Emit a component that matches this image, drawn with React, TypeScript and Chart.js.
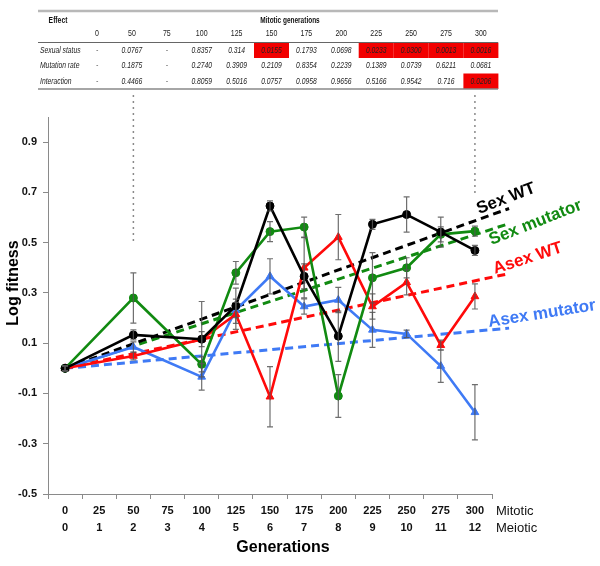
import React, { useEffect, useRef } from 'react';
import { Chart, registerables } from 'chart.js';

Chart.register(...registerables);

// ---------- data ----------
const mitoticLabels = ['0', '25', '50', '75', '100', '125', '150', '175', '200', '225', '250', '275', '300'];
const meioticLabels = ['0', '1', '2', '3', '4', '5', '6', '7', '8', '9', '10', '11', '12'];
const yTickValues = [-0.5, -0.3, -0.1, 0.1, 0.3, 0.5, 0.7, 0.9];

const sexWT = [0, null, 0.133, null, 0.116, 0.249, 0.646, 0.366, 0.128, 0.573, 0.612, 0.542, 0.469];
const sexWTErr = [0.01, null, 0.02, null, 0.15, 0.07, 0.02, 0.05, 0.1, 0.02, 0.07, 0.06, 0.02];
const sexMut = [0, null, 0.28, null, 0.016, 0.38, 0.544, 0.562, -0.11, 0.36, 0.4, 0.533, 0.546];
const sexMutErr = [0.01, null, 0.1, null, 0.03, 0.045, 0.04, 0.04, 0.085, 0.1, 0.04, 0.03, 0.02];
const asexWT = [0, null, 0.049, null, 0.116, 0.215, -0.113, 0.4, 0.522, 0.246, 0.342, 0.092, 0.286];
const asexWTErr = [0.01, null, 0.015, null, 0.03, 0.06, 0.12, 0.12, 0.09, 0.05, 0.05, 0.02, 0.05];
const asexMut = [0, null, 0.085, null, -0.034, 0.232, 0.366, 0.246, 0.272, 0.153, 0.137, 0.009, -0.175];
const asexMutErr = [0.01, null, 0.02, null, 0.053, 0.03, 0.07, 0.03, 0.05, 0.07, 0.015, 0.065, 0.11];

// linear trend lines: start (index, value) and end (index, value)
const trendStartX = 0;
const trendEndX = 13;
const sexWTTrend = [0, 0.636];
const sexMutTrend = [0, 0.576];
const asexWTTrend = [0, 0.377];
const asexMutTrend = [0, 0.16];

// table
const tableCols = ['0', '50', '75', '100', '125', '150', '175', '200', '225', '250', '275', '300'];
const rowNames = ['Sexual status', 'Mutation rate', 'Interaction'];
const sexualStatusP = ['-', '0.0767', '-', '0.8357', '0.314', '0.0155', '0.1793', '0.0698', '0.0233', '0.0300', '0.0013', '0.0016'];
const mutationRateP = ['-', '0.1875', '-', '0.2740', '0.3909', '0.2109', '0.8354', '0.2239', '0.1389', '0.0739', '0.6211', '0.0681'];
const interactionP = ['-', '0.4466', '-', '0.8059', '0.5016', '0.0757', '0.0958', '0.9656', '0.5166', '0.9542', '0.716', '0.0206'];
const sexualStatusSig = [5, 8, 9, 10, 11];
const mutationRateSig: number[] = [];
const interactionSig = [11];

// guide dotted lines (category, value where it ends)
const guideCats = ['50', '300'];
const guideEnds = [0.5, 0.69];

const seriesNames = ['Sex WT', 'Sex mutator', 'Asex WT', 'Asex mutator'];

// ---------- styles ----------
const FONT = "'Liberation Sans', Arial, Helvetica, sans-serif";
const BLACK = '#000000';
const GREEN = '#118a11';
const RED = '#ff0a0a';
const BLUE = '#3f7af5';

function txt(ctx: CanvasRenderingContext2D, s: string, x: number, y: number, font: string, color: string,
  align: CanvasTextAlign = 'center', sx = 1, angleDeg = 0, baseline: CanvasTextBaseline = 'middle') {
  ctx.save();
  ctx.font = font;
  ctx.fillStyle = color;
  ctx.textAlign = align;
  ctx.textBaseline = baseline;
  ctx.translate(x, y);
  if (angleDeg) ctx.rotate((angleDeg * Math.PI) / 180);
  ctx.scale(sx, 1);
  ctx.fillText(s, 0, 0);
  ctx.restore();
}

const annotPlugin = {
  id: 'annot',
  afterDatasetsDraw(chart: any) {
    const ctx: CanvasRenderingContext2D = chart.ctx;
    const xs = chart.scales.x;
    const ys = chart.scales.y;
    const sets = [
      [sexWT, sexWTErr],
      [sexMut, sexMutErr],
      [asexWT, asexWTErr],
      [asexMut, asexMutErr],
    ];
    ctx.save();
    ctx.strokeStyle = 'rgba(85,85,85,0.85)';
    ctx.lineWidth = 1.2;
    sets.forEach(([vals, errs]) => {
      vals.forEach((v: any, i: number) => {
        const e = errs[i];
        if (v === null || e === null) return;
        const px = xs.getPixelForValue(i);
        const y1 = ys.getPixelForValue(v + e);
        const y2 = ys.getPixelForValue(v - e);
        ctx.beginPath();
        ctx.moveTo(px, y1);
        ctx.lineTo(px, y2);
        ctx.moveTo(px - 3, y1);
        ctx.lineTo(px + 3, y1);
        ctx.moveTo(px - 3, y2);
        ctx.lineTo(px + 3, y2);
        ctx.stroke();
      });
    });
    ctx.restore();
  },
  afterDraw(chart: any) {
    const ctx: CanvasRenderingContext2D = chart.ctx;
    const xs = chart.scales.x;
    const ys = chart.scales.y;

    // ---- table ----
    const colX = (k: number) => 97 + k * 34.9;
    ctx.save();
    ctx.strokeStyle = '#b8b8b8';
    ctx.lineWidth = 2.5;
    ctx.beginPath();
    ctx.moveTo(38, 11);
    ctx.lineTo(498, 11);
    ctx.stroke();
    ctx.restore();

    txt(ctx, 'Effect', 58, 21, `bold 9px ${FONT}`, '#111', 'center', 0.75);
    txt(ctx, 'Mitotic generations', 290, 21, `bold 9px ${FONT}`, '#111', 'center', 0.72);
    tableCols.forEach((c, k) => txt(ctx, c, colX(k), 33.5, `9px ${FONT}`, '#222', 'center', 0.78));

    const rowTop = [42.5, 58, 73.5];
    const rowH = 15.5;
    const rowVals = [sexualStatusP, mutationRateP, interactionP];
    const rowSig = [sexualStatusSig, mutationRateSig, interactionSig];
    rowSig.forEach((sig, r) => {
      ctx.save();
      ctx.fillStyle = '#f20000';
      sig.forEach((k) => {
        ctx.fillRect(colX(k) - 17.5, rowTop[r], 35, rowH);
      });
      ctx.restore();
    });
    ctx.save();
    ctx.strokeStyle = '#666';
    ctx.lineWidth = 1;
    ctx.beginPath();
    ctx.moveTo(38, 42.5);
    ctx.lineTo(498, 42.5);
    ctx.stroke();
    ctx.strokeStyle = '#888';
    ctx.lineWidth = 1.5;
    ctx.beginPath();
    ctx.moveTo(38, 89);
    ctx.lineTo(498, 89);
    ctx.stroke();
    ctx.restore();
    rowNames.forEach((n, r) => {
      const cy = rowTop[r] + rowH / 2;
      txt(ctx, n, 40, cy, `italic 9px ${FONT}`, '#222', 'left', 0.75);
      rowVals[r].forEach((v, k) => {
        txt(ctx, v, colX(k), cy, `italic 9px ${FONT}`, '#222', 'center', 0.75);
      });
    });

    // ---- dotted guide lines ----
    ctx.save();
    ctx.strokeStyle = '#8a8a8a';
    ctx.lineWidth = 1.5;
    ctx.setLineDash([2, 4]);
    guideCats.forEach((c, i) => {
      const px = xs.getPixelForValue(mitoticLabels.indexOf(c));
      ctx.beginPath();
      ctx.moveTo(px, 95);
      ctx.lineTo(px, ys.getPixelForValue(guideEnds[i]));
      ctx.stroke();
    });
    ctx.restore();

    // ---- axis titles ----
    txt(ctx, 'Log fitness', 14, 283, `bold 16px ${FONT}`, '#000', 'center', 1, -90);
    txt(ctx, 'Generations', 283, 548, `bold 16px ${FONT}`, '#000', 'center');
    txt(ctx, 'Mitotic', 496, 511, `13px ${FONT}`, '#111', 'left');
    txt(ctx, 'Meiotic', 496, 528, `13px ${FONT}`, '#111', 'left');

    // ---- series labels ----
    const lbl = [
      { c: BLACK, x: 479, y: 214, a: -21 },
      { c: GREEN, x: 491.5, y: 245, a: -21.5 },
      { c: RED, x: 495, y: 274, a: -18 },
      { c: BLUE, x: 489, y: 327, a: -9 },
    ];
    lbl.forEach((l, i) => txt(ctx, seriesNames[i], l.x, l.y, `bold 17px ${FONT}`, l.c, 'left', 1, l.a, 'alphabetic'));
  },
};

function lineSet(label: string, data: any[], color: string, style: string, radius: number) {
  return {
    label,
    data,
    borderColor: color,
    backgroundColor: color,
    borderWidth: 2.6,
    pointStyle: style,
    pointRadius: radius,
    pointBorderWidth: 1,
    spanGaps: true,
    tension: 0,
    xAxisID: 'x',
    yAxisID: 'y',
  };
}

function trendSet(label: string, t: number[], color: string) {
  return {
    label,
    data: [
      { x: trendStartX, y: t[0] },
      { x: trendEndX, y: t[1] },
    ],
    borderColor: color,
    backgroundColor: color,
    borderWidth: 3,
    borderDash: [8, 5],
    pointRadius: 0,
    clip: false,
    xAxisID: 'xt',
    yAxisID: 'y',
  };
}

export default function App() {
  const ref = useRef<HTMLCanvasElement>(null);
  useEffect(() => {
    document.body.style.margin = '0';
    const canvas = ref.current;
    if (!canvas) return;
    const chart = new Chart(canvas, {
      type: 'line',
      data: {
        labels: mitoticLabels,
        datasets: [
          lineSet(seriesNames[0], sexWT, BLACK, 'circle', 4),
          lineSet(seriesNames[1], sexMut, GREEN, 'circle', 4),
          lineSet(seriesNames[2], asexWT, RED, 'triangle', 4.5),
          lineSet(seriesNames[3], asexMut, BLUE, 'triangle', 4.5),
          trendSet('Sex WT trend', sexWTTrend, BLACK),
          trendSet('Sex mutator trend', sexMutTrend, GREEN),
          trendSet('Asex WT trend', asexWTTrend, RED),
          trendSet('Asex mutator trend', asexMutTrend, BLUE),
        ] as any,
      },
      options: {
        responsive: false,
        animation: false,
        devicePixelRatio: 1,
        layout: { padding: { left: 0, right: 108, top: 117, bottom: 0 } },
        plugins: {
          legend: { display: false },
          tooltip: { enabled: false },
          title: { display: false },
        },
        scales: {
          x: {
            type: 'category',
            position: 'bottom',
            offset: true,
            grid: { drawOnChartArea: false, drawTicks: true, tickLength: 5, color: '#8a8a8a', offset: true },
            border: { color: '#8a8a8a', width: 1 },
            ticks: {
              autoSkip: false,
              maxRotation: 0,
              minRotation: 0,
              padding: 3,
              color: '#111',
              font: { family: FONT, size: 11, weight: 'bold', lineHeight: 17 / 11 },
              callback: (_v: any, i: number) => [mitoticLabels[i], meioticLabels[i]],
            },
            afterFit: (s: any) => {
              s.height = 72;
            },
          },
          xt: {
            type: 'linear',
            display: false,
            min: -0.5,
            max: mitoticLabels.length - 0.5,
          },
          y: {
            type: 'linear',
            min: -0.5,
            max: 1.0,
            afterBuildTicks: (s: any) => {
              s.ticks = yTickValues.map((v) => ({ value: v }));
            },
            grid: { drawOnChartArea: false, drawTicks: true, tickLength: 5, color: '#8a8a8a' },
            border: { color: '#8a8a8a', width: 1 },
            ticks: {
              padding: 6,
              color: '#111',
              font: { family: FONT, size: 11, weight: 'bold' },
              callback: (v: any) => Number(v).toFixed(1),
            },
            afterFit: (s: any) => {
              s.width = 48;
            },
          },
        } as any,
      },
      plugins: [annotPlugin],
    });
    return () => chart.destroy();
  }, []);
  return <canvas ref={ref} width={600} height={566} style={{ display: 'block' }} />;
}
